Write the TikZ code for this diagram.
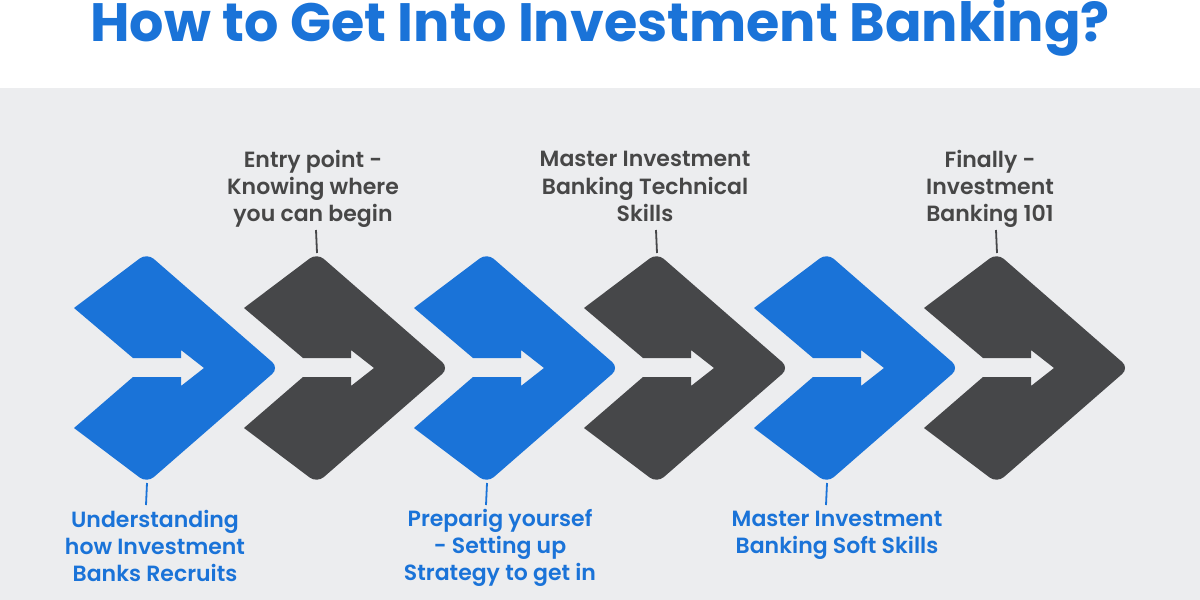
\documentclass[tikz,border=0pt]{standalone}
\usepackage{fontspec}
\setmainfont{Poppins}
\newfontfamily\labfont{Poppins SemiBold}
\definecolor{ibblue}{HTML}{1A73D8}
\definecolor{ibdark}{HTML}{464749}
\definecolor{ibtext}{HTML}{474747}
\definecolor{ibbg}{HTML}{ECEDEF}
\tikzset{
  titletext/.style={font=\bfseries\fontsize{54}{60}\selectfont, text=ibblue, inner sep=0pt, anchor=base},
  lab/.style={font=\labfont\fontsize{22}{27.3}\selectfont, align=center, inner sep=0pt},
  toplab/.style={lab, text=ibtext},
  botlab/.style={lab, text=ibblue},
  topline/.style={draw=ibdark, line width=1.8pt},
  botline/.style={draw=ibblue, line width=1.8pt}
}
\begin{document}
\begin{tikzpicture}[x=1pt,y=-1pt]
\fill[white] (0,0) rectangle (1200,88);
\fill[ibbg] (0,88) rectangle (1200,600);
\useasboundingbox (0,0) rectangle (1200,600);
\node[titletext] (title) at (600,41) {How to Get Into Investment Banking?};
% chevrons
\foreach \i/\c in {0/ibblue,1/ibdark,2/ibblue,3/ibdark,4/ibblue,5/ibdark}{
  \begin{scope}[shift={(\i*170,0)}]
    \fill[\c] (74,308) [rounded corners=9pt] -- (147,253) -- (279,368) -- (147,483) [sharp corners] -- (74,428)
      -- (133,377) -- (181,377) -- (181,386) -- (204,368) -- (181,350) -- (181,358) -- (133,358) -- cycle;
    \coordinate (v\i t) at (147,253);
    \coordinate (v\i b) at (147,483);
  \end{scope}
}
% labels
\node[botlab] (l1) at (155,546) {Understanding\\how Investment\\Banks Recruits};
\node[toplab] (l2) at (313,189) {Entry point -\\Knowing where\\you can begin};
\node[botlab] (l3) at (500,548) {Preparig yoursef\\- Setting up\\Strategy to get in};
\node[toplab] (l4) at (645,186.5) {Master Investment\\Banking Technical\\Skills};
\node[botlab] (l5) at (837,535) {Master Investment\\Banking Soft Skills};
\node[toplab] (l6) at (990,189) {Finally -\\Investment\\Banking 101};
% connector ends
\coordinate (e1) at (146,505);
\coordinate (e2) at (316,230);
\coordinate (e3) at (486,505);
\coordinate (e4) at (656,230);
\coordinate (e5) at (826,505);
\coordinate (e6) at (996,230);
\draw[botline] (v0b) -- (e1);
\draw[topline] (e2) -- (v1t);
\draw[botline] (v2b) -- (e3);
\draw[topline] (e4) -- (v3t);
\draw[botline] (v4b) -- (e5);
\draw[topline] (e6) -- (v5t);
\end{tikzpicture}
\end{document}
